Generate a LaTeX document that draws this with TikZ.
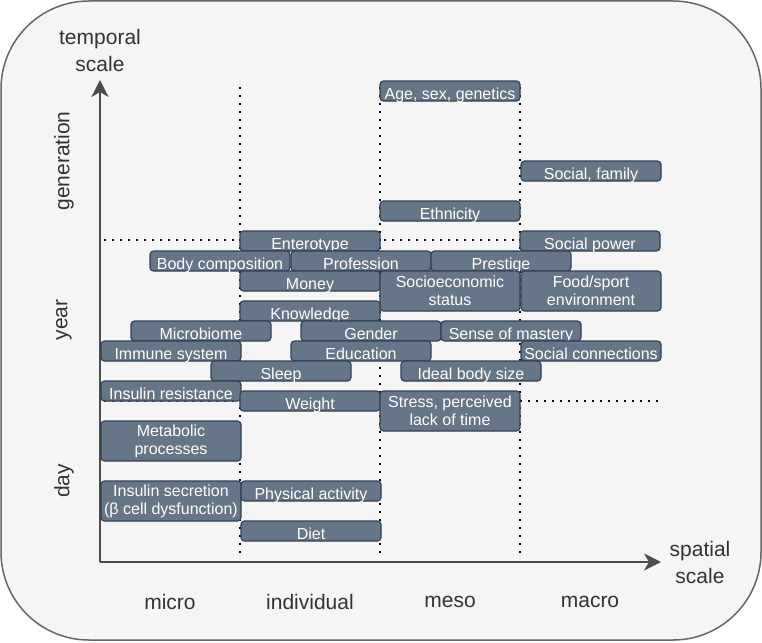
\documentclass[tikz,border=0pt]{standalone}
\usepackage{fontspec}
\setmainfont{Liberation Sans}
\usetikzlibrary{arrows.meta}
\definecolor{boxfill}{HTML}{647687}
\definecolor{boxline}{HTML}{314354}
\definecolor{panel}{HTML}{F5F5F5}
\definecolor{panelline}{HTML}{666666}
\definecolor{axis}{HTML}{4D4D4D}
\definecolor{labeltext}{HTML}{333333}
\begin{document}
\begin{tikzpicture}[x=1pt,y=-1pt,
    bx/.style={draw=boxline,fill=boxfill,line width=1.2pt,rounded corners=3.5pt,
      minimum width=140pt,inner sep=0pt,text=white,align=center,
      font=\fontsize{16}{18}\selectfont},
    oneline/.style={minimum height=20pt,text height=16pt,text depth=0pt},
    twoline/.style={minimum height=40pt},
    border/.style={line width=1.8pt,dash pattern=on 1.8pt off 6.2pt},
    axislabel/.style={text=labeltext,align=center,font=\fontsize{21}{27}\selectfont}]
      \useasboundingbox (0,0) rectangle (762,642);
      \draw[fill=panel,draw=panelline,line width=1.5pt,rounded corners=88pt] (1,1) rectangle (761,640);
      % scale borders
      \coordinate (o) at (100,562);
      \coordinate (ytop) at (100,80);
      \coordinate (xend) at (661,562);
      \foreach \x in {240,380,520}{
        \draw[border] (\x,87) -- (\x,555);
      }
      \foreach \y in {240,401}{
        \draw[border] (104,\y) -- (662,\y);
      }
      \draw[axis,line width=1.5pt,-{Stealth[length=17pt,width=17pt,inset=5pt]}] (o) -- (ytop);
      \draw[axis,line width=1.5pt,-{Stealth[length=17pt,width=17pt,inset=5pt]}] (o) -- (xend);
      % factors
      \def \Boxes{
        age/450/91/oneline/{Age, sex, genetics},
        family/591/171/oneline/{Social, family},
        ethn/450/211/oneline/Ethnicity,
        entero/310/241/oneline/Enterotype,
        power/590/241/oneline/{Social power},
        body/220/261/oneline/{Body composition},
        prof/361/261/oneline/Profession,
        prest/501/261/oneline/Prestige,
        money/310/281/oneline/Money,
        ses/450/291/twoline/{Socioeconomic\\status},
        food/591/291/twoline/{Food/sport\\environment},
        know/310/311/oneline/Knowledge,
        microb/201/331/oneline/Microbiome,
        gender/371/331/oneline/Gender,
        mastery/511/331/oneline/{Sense of mastery},
        immune/171/351/oneline/{Immune system},
        edu/361/351/oneline/Education,
        conn/591/351/oneline/{Social connections},
        sleep/281/371/oneline/Sleep,
        ideal/471/371/oneline/{Ideal body size},
        insres/171/391/oneline/{Insulin resistance},
        weight/310/401/oneline/Weight,
        stress/450/411/twoline/{Stress, perceived\\lack of time},
        metab/171/441/twoline/{Metabolic\\processes},
        inssec/171/501/twoline/{Insulin secretion\\(β cell dysfunction)},
        phys/311/491/oneline/{Physical activity},
        diet/311/531/oneline/Diet}
      \foreach \id / \x / \y / \s / \t in \Boxes{
        \node[bx,\s] (\id) at (\x, \y) {\t};
      }
      % axis labels
      \node[axislabel] (temporal) at (100,50) {temporal\\scale};
      \node[axislabel] (spatial) at (700,562) {spatial\\scale};
      \foreach \id / \x / \t in {micro/170/micro, indiv/310/individual, meso/450/meso, macro/590/macro}{
        \node[axislabel] (\id) at (\x,602) {\t};
      }
      \foreach \id / \y / \t in {gen/161/generation, year/320/year, day/481/day}{
        \node[axislabel,rotate=90] (\id) at (64,\y) {\t};
      }
    \end{tikzpicture}
\end{document}
